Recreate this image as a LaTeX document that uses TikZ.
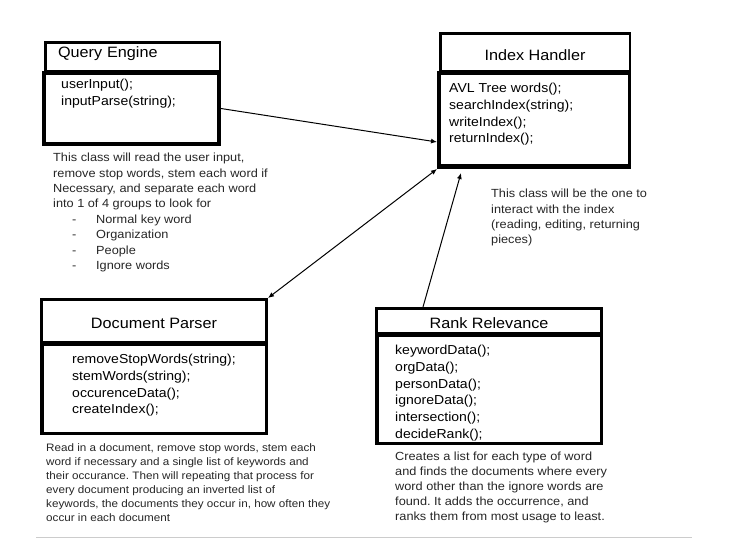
\documentclass[tikz,border=0pt]{standalone}
\usepackage{fontspec}
\setmainfont[FakeStretch=1.08]{Liberation Sans}
\usepackage{tikz}
\usetikzlibrary{arrows.meta,positioning}
\frenchspacing

\begin{document}
\begin{tikzpicture}[x=1pt, y=-1pt,
        titlebox/.style={rectangle, draw, line width=2.5pt, inner sep=0pt, anchor=north west,
                      font=\fontsize{15}{18}\selectfont},
        bodybox/.style={rectangle, draw, line width=3.5pt, inner sep=0pt, anchor=north west},
        members/.style={anchor=north west, align=left, inner sep=0pt,
                      font=\fontsize{13}{16.7}\selectfont},
        note/.style={anchor=north west, align=left, inner sep=0pt, text=black!85,
                      font=\fontsize{11.8}{15.4}\selectfont},
        line/.style={draw, line width=1pt, {-Latex[length=6pt,width=5pt]}},
    ]
    \useasboundingbox (0,0) rectangle (751,539);

    % Query Engine
    \node [bodybox, line width=4pt, minimum width=175pt, minimum height=71pt] (qeBody) at (42,71) {};
    \node [titlebox, minimum width=174.5pt, minimum height=28.5pt, inner xsep=12.75pt, text width=149pt,
           align=left, text height=10pt, text depth=9pt] (qeTitle) at (44,41) {Query Engine};
    \node [members] (qeMembers) at (61,79) {userInput();\\inputParse(string);};
    \node [note] (qeNote) at (53,153) {This class will read the user input,\\
        remove stop words, stem each word if\\
        Necessary, and separate each word\\
        into 1 of 4 groups to look for\\
        \hbox to 43pt{\hspace{19pt}-\hfill}Normal key word\\
        \hbox to 43pt{\hspace{19pt}-\hfill}Organization\\
        \hbox to 43pt{\hspace{19pt}-\hfill}People\\
        \hbox to 43pt{\hspace{19pt}-\hfill}Ignore words};

    % Index Handler
    \node [bodybox, minimum width=190.5pt, minimum height=94.5pt] (ihBody) at (437,71) {};
    \draw [line width=5pt] ([yshift=2.5pt]ihBody.south west) -- ([yshift=2.5pt]ihBody.south east);
    \node [titlebox, minimum width=189.5pt, minimum height=37.5pt,
           text height=16pt, text depth=0pt] (ihTitle) at (439,32) {Index Handler};
    \node [members] (ihMembers) at (449,83) {AVL Tree words();\\searchIndex(string);\\writeIndex();\\returnIndex();};
    \node [note] (ihNote) at (491,189) {This class will be the one to\\
        interact with the index\\
        (reading, editing, returning\\
        pieces)};

    % Document Parser
    \node [bodybox, minimum width=224.5pt, minimum height=89.5pt] (dpBody) at (40,342) {};
    \node [titlebox, line width=3pt, minimum width=225pt, minimum height=43pt,
           text height=14.6pt, text depth=0pt] (dpTitle) at (40,298) {Document Parser};
    \node [members] (dpMembers) at (72,354) {removeStopWords(string);\\stemWords(string);\\occurenceData();\\createIndex();};
    \node [note, font=\fontsize{10.8}{14.1}\selectfont] (dpNote) at (46,443) {Read in a document, remove stop words, stem each\\
        word if necessary and a single list of keywords and\\
        their occurance. Then will repeating that process for\\
        every document producing an inverted list of\\
        keywords, the documents they occur in, how often they\\
        occur in each document};

    % Rank Relevance
    \node [bodybox, minimum width=224.5pt, minimum height=108.5pt] (rrBody) at (375,333) {};
    \node [titlebox, line width=3pt, minimum width=225pt, minimum height=25pt,
           text height=14.6pt, text depth=0pt] (rrTitle) at (375,307) {Rank Relevance};
    \node [members] (rrMembers) at (395,345) {keywordData();\\orgData();\\personData();\\ignoreData();\\intersection();\\decideRank();};
    \node [note, font=\fontsize{11.8}{15}\selectfont] (rrNote) at (395,452) {Creates a list for each type of word\\
        and finds the documents where every\\
        word other than the ignore words are\\
        found. It adds the occurrence, and\\
        ranks them from most usage to least.};

    \draw [line] (qeBody.east) -- ([yshift=-22pt]ihBody.west);
    \draw [line, {Latex[length=6pt,width=5pt]}-{Latex[length=6pt,width=5pt]}] (dpTitle.north east) -- (ihBody.south west);
    \draw [line] ([xshift=-66pt]rrTitle.north) -- ([shift={(-73pt,-4pt)}]ihBody.south);

    \draw [gray!40, line width=1pt] (36,537.5) -- (692,537.5);
\end{tikzpicture}
\end{document}
